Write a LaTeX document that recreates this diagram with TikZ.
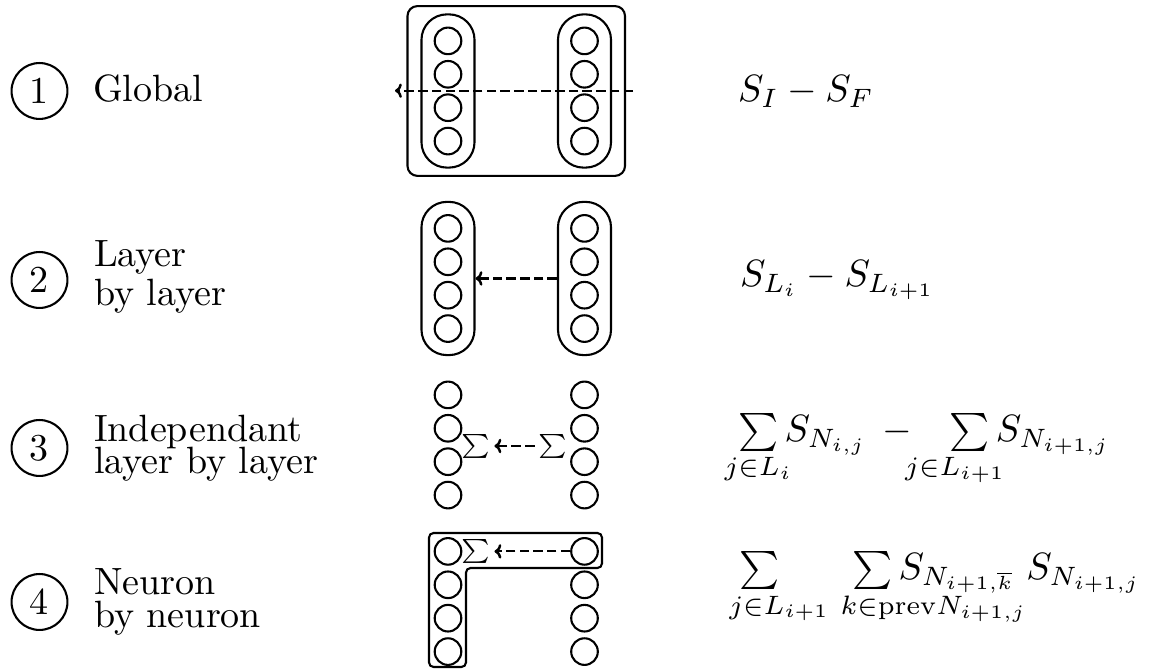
\documentclass[tikz,border=0pt]{standalone}
\usepackage{mathtools}
\usetikzlibrary{fit,calc,arrows.meta}
\begin{document}
\begin{tikzpicture}[x=0.263pt,y=-0.263pt, line width=0.55pt,
  neuron/.style={circle,draw,minimum size=7pt,inner sep=0pt},
  pill/.style={draw,rounded corners=6.7pt,inner sep=3.2pt},
  num/.style={circle,draw,minimum size=14.7pt,inner sep=0pt},
  lbl/.style={anchor=base west,inner sep=0pt,align=left},
  frm/.style={anchor=base west,inner sep=0pt},
  flow/.style={-{To[length=1.8pt,width=3.8pt,line width=0.65pt]},dash pattern=on 2.5pt off 1.1pt},
  sig/.style={inner sep=0.8pt,font=\fontsize{6.3}{7}\selectfont}]
\useasboundingbox (0,0) rectangle (1150,671);
% neurons
\foreach \r/\cy in {1/91,2/278.5,3/445,4/601.5}{
  \foreach \k/\dy in {1/-50.1,2/-16.7,3/16.7,4/50.1}{
    \node[neuron] (L\r\k) at (448,{\cy+\dy}) {};
    \node[neuron] (R\r\k) at (584.5,{\cy+\dy}) {};
  }
}
% numbers and labels
\node[num] (c1) at (39.5,91) {1};
\node[num] (c2) at (39.5,280) {2};
\node[num] (c3) at (39.5,448) {3};
\node[num] (c4) at (39.5,602) {4};
\node[lbl] (t1) at (92,102) {Global};
\node[lbl] (t2) at (93,306) {Layer\\[-1.7pt]by layer};
\node[lbl] (t3) at (93,473.3) {Independant\\[-3.6pt]layer by layer};
\node[lbl] (t4) at (93,628) {Neuron\\[-3.3pt]by neuron};
% row 1
\node[pill,fit=(L11)(L14)] (PL1) {};
\node[pill,fit=(R11)(R14)] (PR1) {};
\node[draw,rounded corners=2.6pt,inner xsep=3.4pt,inner ysep=1.9pt,fit=(PL1)(PR1)] (G1) {};
\coordinate (a1s) at (633,90.7);
\coordinate (a1e) at (395,90.7);
\draw[flow] (a1s) -- (a1e);
% row 2
\node[pill,fit=(L21)(L24)] (PL2) {};
\node[pill,fit=(R21)(R24)] (PR2) {};
\draw[flow] (PR2.west) -- (PL2.east);
% row 3
\node[sig] (SL3) at (476,446) {$\sum$};
\node[sig] (SR3) at (553,446) {$\sum$};
\draw[flow] (SR3) -- (SL3);
% row 4
\node[sig] (SL4) at (476,551.4) {$\sum$};
\draw[flow] (R41) -- (SL4);
\draw[rounded corners=1.2pt] (429,533) -- (602,533) -- (602,568) -- (466,568) -- (466,667) -- (429,667) -- cycle;
% formulas
\node[frm] (f1) at (737,102) {$S_I - S_F$};
\node[frm] (f2) at (739,286.7) {$S_{L_i} - S_{L_{i+1}}$};
\node[frm] (f3) at (737,441.7) {$\sum\limits_{\mathclap{j\in L_i}} S_{N_{i,j}} \kern2pt - \kern7.5pt\sum\limits_{\mathrlap{\kern-17pt j\in L_{i+1}}} S_{N_{i+1,j}}$};
\node[frm] (f4) at (738,580) {$\sum\limits_{\mathrlap{\kern-7.9pt j\in L_{i+1}}}\kern17.5pt \sum\limits_{\mathrlap{\kern-8.3pt k\in \mathrm{prev} N_{i+1,j}}} S_{N_{i+1,\smash[t]{\overline{k}}}}\; S_{N_{i+1,j}}$};
\end{tikzpicture}
\end{document}
